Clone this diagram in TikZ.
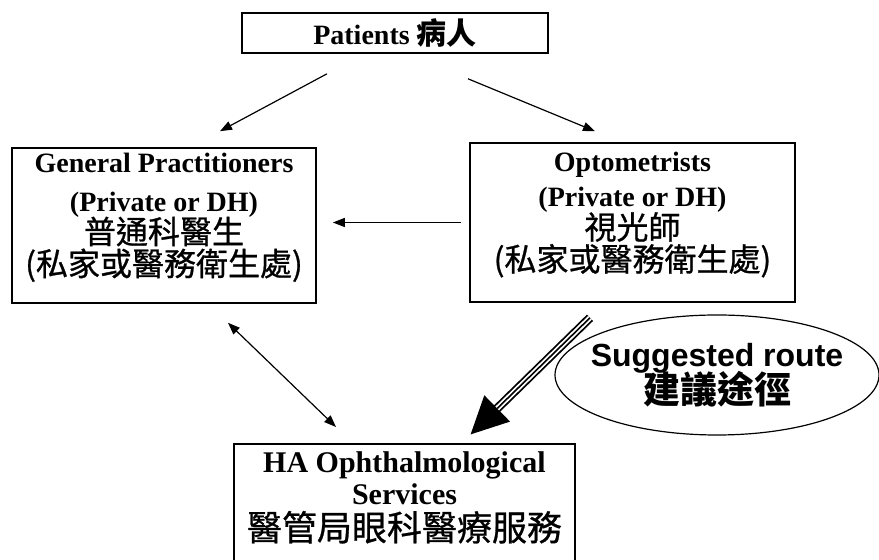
\documentclass[tikz,border=0pt]{standalone}
\usepackage{fontspec}
\setmainfont{Liberation Serif}
\setsansfont{Liberation Sans}
\newfontfamily\cjk{Noto Sans CJK TC}
\newfontfamily\cjkm[FakeBold=0.8]{Noto Sans CJK TC}
\usetikzlibrary{shapes, arrows.meta}

% Chinese line in a box
\newcommand{\zh}[2][16]{{\cjkm\mdseries\fontsize{#1}{16}\selectfont #2}}

\begin{document}
\begin{tikzpicture}[x=0.5pt, y=-0.5pt,
            box/.style={draw, rectangle, line width=0.8pt, align=center, inner sep=0pt, font=\fontsize{14}{16}\selectfont\bfseries},
            pipe/.style={-{Triangle[length=6pt, width=4.5pt]}, line width=0.6pt},
            both/.style={{Triangle[length=6pt, width=4.5pt]}-{Triangle[length=6pt, width=4.5pt]}, line width=0.6pt},
            route/.style={-{Triangle[length=19pt, width=17pt]}, line width=4.4pt,
                postaction={draw, -, white, line width=2.6pt, shorten >=19pt},
                postaction={draw, -, black, line width=0.8pt, shorten >=19pt}}]

            \useasboundingbox (0,0) rectangle (879,560);
            \clip (0,0) rectangle (879,560);

            % 病人
            \node[box, minimum width=153pt, minimum height=20pt] (pat) at (395,33) {Patients {\cjk\fontsize{15}{16}\selectfont 病人}};

            % 普通科醫生 / 視光師
            \node[box, minimum width=152pt, minimum height=77.5pt] (gp) at (164,225.5)
                {General Practitioners\\[3.5pt](Private or DH)\\[-1.5pt]\zh{普通科醫生}\\\zh{(私家或醫務衛生處)}\\[-5pt]\mbox{}};
            \node[box, minimum width=162.5pt, minimum height=79.5pt] (opto) at (632.5,222.5)
                {Optometrists\\[1.5pt](Private or DH)\\[-1pt]\zh{視光師}\\\zh{(私家或醫務衛生處)}\\[-5pt]\mbox{}};

            % 醫管局
            \node[box, minimum width=170.5pt, anchor=north, inner ysep=4pt, font=\fontsize{15}{16}\selectfont\bfseries] (ha) at (404.5,443)
                {HA Ophthalmological\\Services\\[2pt]\zh[17.5]{醫管局眼科醫療服務}\\[30pt]\mbox{}};

            % 建議途徑
            \node[draw, ellipse, line width=0.6pt, minimum width=162pt, minimum height=60pt, inner xsep=-8pt, inner ysep=0pt, align=center,
                font=\sffamily\bfseries\fontsize{16}{17}\selectfont] (sug) at (717,375)
                {Suggested route\\[-2pt]{\cjk\fontsize{18.5}{17}\selectfont 建議途徑}};

            % 連接
            \draw[pipe] ([xshift=-34pt, yshift=-10pt]pat.south) -- ([xshift=28pt, yshift=8pt]gp.north);
            \draw[pipe] ([xshift=36.5pt, yshift=-12.5pt]pat.south) -- ([xshift=-18.75pt, yshift=5.5pt]opto.north);
            \draw[pipe] ([xshift=-4pt]opto.west) -- ([xshift=8pt]gp.east |- opto.west);
            \draw[both] ([xshift=32pt, yshift=-9.5pt]gp.south) -- ([xshift=-34.25pt, yshift=8pt]ha.north);
            \draw[route] ([xshift=-21.25pt, yshift=-7.5pt]opto.south) -- ([xshift=32.75pt, yshift=4pt]ha.north);
        \end{tikzpicture}
\end{document}
